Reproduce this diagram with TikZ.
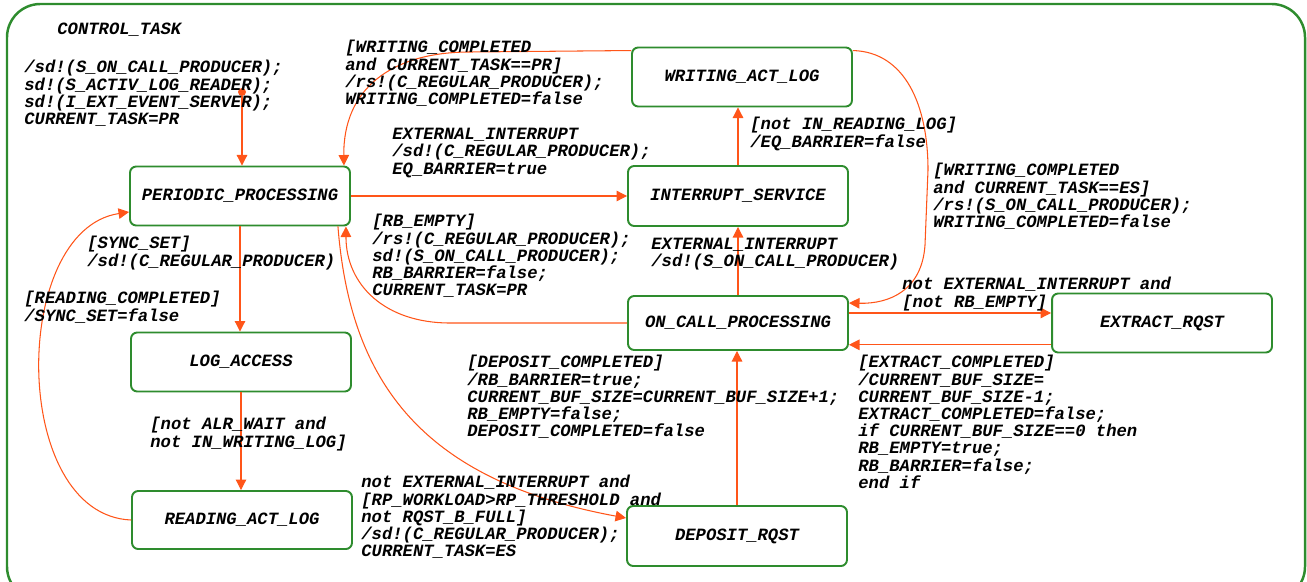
\documentclass[tikz,border=0pt]{standalone}
\usepackage{fontspec}
\setmainfont{Liberation Mono}
\usetikzlibrary{arrows.meta,calc}
\definecolor{stategreen}{RGB}{46,140,46}
\definecolor{transred}{RGB}{255,85,25}
\tikzset{
  state/.style={draw=stategreen, line width=1.1pt, rounded corners=3.5pt, minimum width=4.4cm, minimum height=1.18cm, inner sep=0pt},
  trans/.style={draw=transred, line width=0.6pt, -{Triangle[length=6pt,width=6pt]}},
  lbl/.style={anchor=north west, align=left, inner sep=0pt}
}

\begin{document}
\begin{tikzpicture}[x=0.02cm,y=-0.02cm,font=\fontsize{9.8}{9.8}\selectfont\bfseries\itshape]
                \useasboundingbox (0,0) rectangle (1307,581);
                \clip (0,0) rectangle (1307,581);
                \draw[stategreen, line width=1.4pt, rounded corners=19pt] (7,4) rectangle (1305,600);

                \node[state] (pp) at (240,196) {PERIODIC\_PROCESSING};
                \node[state] (la) at (241,362) {LOG\_ACCESS};
                \node[state, minimum height=1.16cm] (ral) at (242,520) {READING\_ACT\_LOG};
                \node[state] (wal) at (742,77) {WRITING\_ACT\_LOG};
                \node[state, minimum height=1.2cm] (is) at (738,196) {INTERRUPT\_SERVICE};
                \node[state, minimum height=1.08cm] (ocp) at (738,323) {ON\_CALL\_PROCESSING};
                \node[state] (er) at (1162,323) {EXTRACT\_RQST};
                \node[state, minimum height=1.2cm] (dr) at (737,536) {DEPOSIT\_RQST};
                \node[circle, fill=transred, inner sep=0pt, minimum size=0.16cm] (init) at (242,92) {};

                \draw[trans] (init) -- (init |- pp.north);
                \draw[trans] ($(wal.north west)+(0,4)$) -- (470,52) .. controls (390,52) and (343,90) .. ($(pp.north east)+(-7,0)$);
                \draw[trans] ($(wal.north east)+(0,4)$) .. controls (905,52) and (928,105) .. (928,170) -- (925,245) .. controls (922,290) and (890,304) .. ($(ocp.north east)+(0,8)$);
                \draw[trans] (pp.east) -- (is.west);
                \draw[trans] (is.north) -- (is.north |- wal.south);
                \draw[trans] (ocp.north) -- (is.south);
                \draw[trans] (ocp.west) -- (450,323) .. controls (385,323) and (346,285) .. ($(pp.south east)+(-5,0)$);
                \draw[trans] ($(pp.south east)+(-13,0)$) .. controls (350,380) and (420,480) .. ($(dr.west)+(0,-18)$);
                \draw[trans] (pp.south) -- (pp.south |- la.north);
                \draw[trans] (la.south) -- (la.south |- ral.north);
                \draw[trans] (ral.west) .. controls (10,515) and (10,230) .. ($(pp.west)+(0,16)$);
                \draw[trans] (dr.north) -- (dr.north |- ocp.south);
                \draw[trans] ([yshift=5.7pt]ocp.east) -- ([yshift=5.7pt]er.west);
                \draw[trans] ([yshift=-12.4pt]er.west) -- ([yshift=-12.4pt]ocp.east);

                \node[lbl] (ctl) at (57,23) {CONTROL\_TASK};
                \node[lbl] (initact) at (24,60) {/sd!(S\_ON\_CALL\_PRODUCER);\\sd!(S\_ACTIV\_LOG\_READER);\\sd!(I\_EXT\_EVENT\_SERVER);\\CURRENT\_TASK=PR};
                \node[lbl] (wcpr) at (345,40) {[WRITING\_COMPLETED\\and CURRENT\_TASK==PR]\\/rs!(C\_REGULAR\_PRODUCER);\\WRITING\_COMPLETED=false};
                \node[lbl] (extint) at (392,128) {EXTERNAL\_INTERRUPT\\/sd!(C\_REGULAR\_PRODUCER);\\EQ\_BARRIER=true};
                \node[lbl] (notrl) at (750,117) {[not IN\_READING\_LOG]\\/EQ\_BARRIER=false};
                \node[lbl] (wces) at (933,163) {[WRITING\_COMPLETED\\and CURRENT\_TASK==ES]\\/rs!(S\_ON\_CALL\_PRODUCER);\\WRITING\_COMPLETED=false};
                \node[lbl] (sync) at (87,236) {[SYNC\_SET]\\/sd!(C\_REGULAR\_PRODUCER)};
                \node[lbl] (rdcpl) at (24,291) {[READING\_COMPLETED]\\/SYNC\_SET=false};
                \node[lbl] (rbempty) at (372,214) {[RB\_EMPTY]\\/rs!(C\_REGULAR\_PRODUCER);\\sd!(S\_ON\_CALL\_PRODUCER);\\RB\_BARRIER=false;\\CURRENT\_TASK=PR};
                \node[lbl] (extint2) at (651,238) {EXTERNAL\_INTERRUPT\\/sd!(S\_ON\_CALL\_PRODUCER)};
                \node[lbl] (notrb) at (902,277) {not EXTERNAL\_INTERRUPT and\\{}[not RB\_EMPTY]};
                \node[lbl] (depcpl) at (467,355) {[DEPOSIT\_COMPLETED]\\/RB\_BARRIER=true;\\CURRENT\_BUF\_SIZE=CURRENT\_BUF\_SIZE+1;\\RB\_EMPTY=false;\\DEPOSIT\_COMPLETED=false};
                \node[lbl] (extcpl) at (858,355) {[EXTRACT\_COMPLETED]\\/CURRENT\_BUF\_SIZE=\\CURRENT\_BUF\_SIZE-1;\\EXTRACT\_COMPLETED=false;\\if CURRENT\_BUF\_SIZE==0 then\\RB\_EMPTY=true;\\RB\_BARRIER=false;\\end if};
                \node[lbl] (alr) at (150,417) {[not ALR\_WAIT and\\not IN\_WRITING\_LOG]};
                \node[lbl] (rpw) at (361,475) {not EXTERNAL\_INTERRUPT and\\{}[RP\_WORKLOAD>RP\_THRESHOLD and\\not RQST\_B\_FULL]\\/sd!(C\_REGULAR\_PRODUCER);\\CURRENT\_TASK=ES};

            \end{tikzpicture}
\end{document}
